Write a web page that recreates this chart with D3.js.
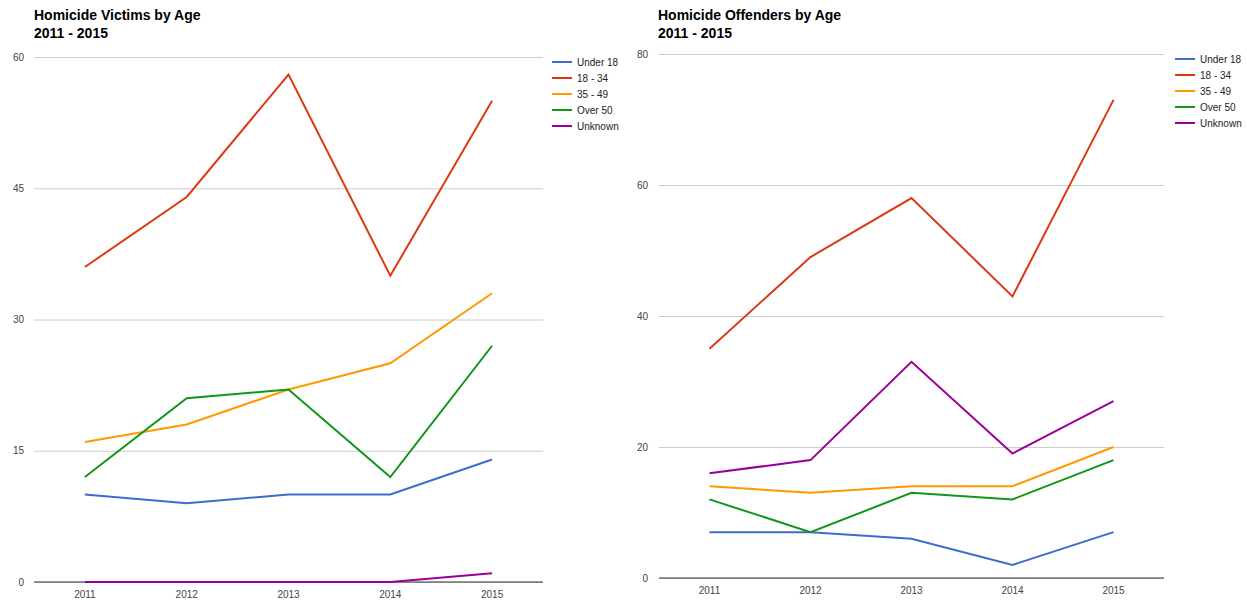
<!DOCTYPE html>
<html>
<head>
<meta charset="utf-8">
<script src="https://cdn.jsdelivr.net/npm/d3@7"></script>
<style>
  body { margin: 0; background: #fff; }
  svg { display: block; font-family: "Liberation Sans", Arial, sans-serif; }
</style>
</head>
<body>
<svg id="chart" width="1247" height="600"></svg>
<script>
// Years along the x axis
const years = ["2011", "2012", "2013", "2014", "2015"];
const seriesNames = ["Under 18", "18 - 34", "35 - 49", "Over 50", "Unknown"];
const seriesColors = ["#3d6ccc", "#dc3912", "#ff9900", "#109618", "#990099"];

// Victims by age group
const victimsUnder18 = [10, 9, 10, 10, 14];
const victims18to34  = [36, 44, 58, 35, 55];
const victims35to49  = [16, 18, 22, 25, 33];
const victimsOver50  = [12, 21, 22, 12, 27];
const victimsUnknown = [0, 0, 0, 0, 1];
const victimsTicks = [0, 15, 30, 45, 60];

// Offenders by age group
const offendersUnder18 = [7, 7, 6, 2, 7];
const offenders18to34  = [35, 49, 58, 43, 73];
const offenders35to49  = [14, 13, 14, 14, 20];
const offendersOver50  = [12, 7, 13, 12, 18];
const offendersUnknown = [16, 18, 33, 19, 27];
const offendersTicks = [0, 20, 40, 60, 80];

const svg = d3.select("#chart");

function drawChart(cfg) {
  const g = svg.append("g");
  const x = d3.scaleBand().domain(years).range([cfg.left, cfg.right]);
  const y = d3.scaleLinear().domain([0, cfg.max]).range([cfg.bottom, cfg.top]);

  // Title
  const title = g.append("text")
    .attr("x", cfg.titleX).attr("y", 20)
    .attr("font-size", 14).attr("font-weight", "bold").attr("fill", "#000");
  title.append("tspan").attr("x", cfg.titleX).attr("dy", 0).text(cfg.title);
  title.append("tspan").attr("x", cfg.titleX).attr("dy", 18).text("2011 - 2015");

  // Gridlines and y labels
  const yAxis = d3.axisLeft(y).tickValues(cfg.ticks)
    .tickSize(-(cfg.right - cfg.left)).tickPadding(cfg.yPad);
  const ya = g.append("g").attr("transform", `translate(${cfg.left},0)`).call(yAxis);
  ya.select(".domain").remove();
  ya.selectAll(".tick line").attr("stroke", "#cccccc");
  ya.selectAll(".tick text").attr("fill", "#444").attr("font-size", 10)
    .attr("font-family", "\"Liberation Sans\", Arial, sans-serif");

  // X labels
  const xAxis = d3.axisBottom(x).tickSize(0).tickPadding(cfg.xPad);
  const xa = g.append("g").attr("transform", `translate(0,${cfg.bottom})`).call(xAxis);
  xa.select(".domain").remove();
  xa.selectAll(".tick text").attr("fill", "#444").attr("font-size", 10)
    .attr("font-family", "\"Liberation Sans\", Arial, sans-serif");

  // Baseline
  g.append("line")
    .attr("x1", cfg.left).attr("x2", cfg.right)
    .attr("y1", y(0)).attr("y2", y(0))
    .attr("stroke", "#333").attr("stroke-width", 1);

  // Series lines
  const line = d3.line()
    .x((d, i) => x(years[i]) + x.bandwidth() / 2)
    .y(d => y(d));
  cfg.series.forEach((vals, i) => {
    g.append("path")
      .datum(vals)
      .attr("d", line)
      .attr("fill", "none")
      .attr("stroke", seriesColors[i])
      .attr("stroke-width", 2)
      .attr("stroke-linejoin", "miter");
  });

  // Legend
  const lg = g.append("g").attr("transform", `translate(${cfg.legendX},${cfg.legendY})`);
  seriesNames.forEach((name, i) => {
    const row = lg.append("g").attr("transform", `translate(0,${i * 16})`);
    row.append("line").attr("x1", 0).attr("x2", 20).attr("y1", 0).attr("y2", 0)
      .attr("stroke", seriesColors[i]).attr("stroke-width", 2);
    row.append("text").attr("x", 25).attr("y", 3.5)
      .attr("font-size", 10).attr("fill", "#222").text(name);
  });
}

drawChart({
  title: "Homicide Victims by Age",
  titleX: 34,
  left: 34, right: 543, top: 57, bottom: 582,
  max: 60, ticks: victimsTicks, yPad: 10, xPad: 9,
  series: [victimsUnder18, victims18to34, victims35to49, victimsOver50, victimsUnknown],
  legendX: 552, legendY: 62
});

drawChart({
  title: "Homicide Offenders by Age",
  titleX: 658,
  left: 659, right: 1164, top: 54, bottom: 578,
  max: 80, ticks: offendersTicks, yPad: 11, xPad: 9,
  series: [offendersUnder18, offenders18to34, offenders35to49, offendersOver50, offendersUnknown],
  legendX: 1175, legendY: 59
});
</script>
</body>
</html>
